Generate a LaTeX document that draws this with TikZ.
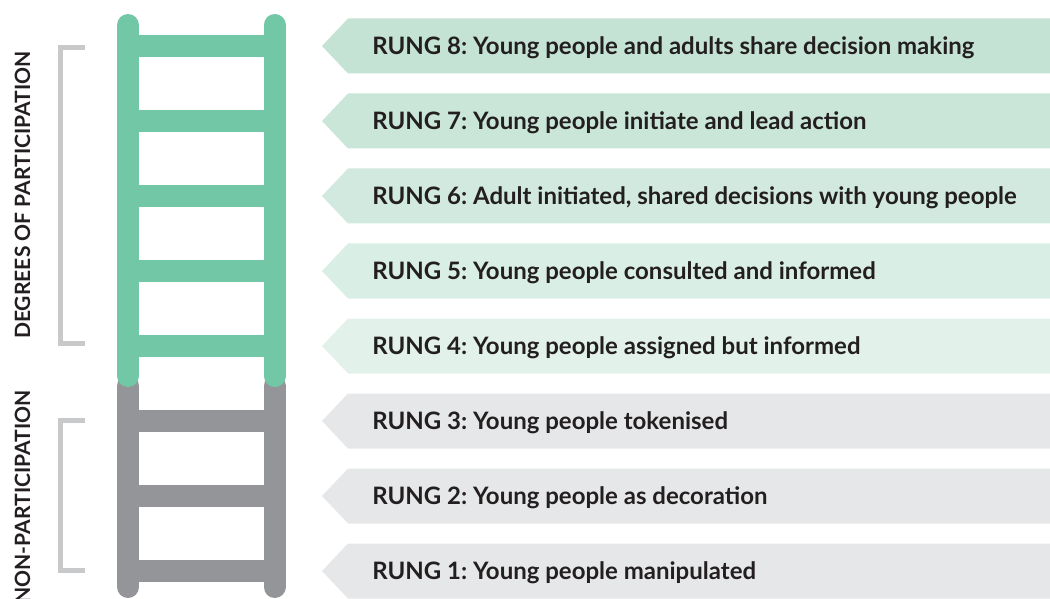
\documentclass[tikz,border=0pt]{standalone}
\usepackage{fontspec}
\setsansfont{Lato}
\usepackage{xcolor}
\frenchspacing

\definecolor{laddergreen}{HTML}{72C7A6}
\definecolor{laddergray}{HTML}{939598}
\definecolor{bracketgray}{HTML}{C8C9CB}
\definecolor{inkdark}{HTML}{231F20}
\definecolor{band8}{HTML}{C4E3D5}
\definecolor{band7}{HTML}{CAE6D9}
\definecolor{band6}{HTML}{D1E9DE}
\definecolor{band5}{HTML}{D9EEE4}
\definecolor{band4}{HTML}{E2F2EB}
\definecolor{bandgray}{HTML}{E6E7E8}

\tikzset{
  rail/.style={line width=16.5pt, line cap=round},
  crossbar/.style={line width=16.5pt},
  bracket/.style={draw=bracketgray, line width=3.75pt},
  rungtext/.style={anchor=base west, inner sep=0pt, text=inkdark,
    font=\sffamily\bfseries\fontsize{18}{21}\selectfont},
  sidetext/.style={rotate=90, anchor=base, inner sep=0pt, text=inkdark,
    font=\sffamily\bfseries\fontsize{15.8}{18}\selectfont}
}

\begin{document}
\begin{tikzpicture}[x=0.75pt, y=-0.75pt]
  \useasboundingbox (0,0) rectangle (1050,599);

  % arrow bands with the rung texts
  \foreach \n/\col/\txt in {
      8/band8/{Young people and adults share decision making},
      7/band7/{Young people initiate and lead action},
      6/band6/{Adult initiated, shared decisions with young people},
      5/band5/{Young people consulted and informed},
      4/band4/{Young people assigned but informed},
      3/bandgray/{Young people tokenised},
      2/bandgray/{Young people as decoration},
      1/bandgray/{Young people manipulated}} {
    \pgfmathsetmacro\yc{46+75*(8-\n)}
    \fill[\col] (322,\yc) -- (348,\yc-27.5) -- (1050,\yc-27.5)
      -- (1050,\yc+27.5) -- (348,\yc+27.5) -- cycle;
    \node[rungtext] (rung\n) at (372,\yc+8.5) {RUNG \n: \txt};
  }

  % ladder: grey bottom part first, green top part over it
  \draw[rail, laddergray] (128,386) -- (128,587) (274.5,386) -- (274.5,587);
  \foreach \y in {421,496,571}
    \draw[crossbar, laddergray] (128,\y) -- (274.5,\y);
  \foreach \y in {46,121,...,346}
    \draw[crossbar, laddergreen] (128,\y) -- (274.5,\y);
  \draw[rail, laddergreen] (128,25) -- (128,376) (274.5,25) -- (274.5,376);

  % brackets and side labels
  \draw[bracket] (85,48) -| (60.5,343) -- (85,343);
  \draw[bracket] (85,420) -| (60.5,570) -- (85,570);
  \node[sidetext] (degrees) at (30,195) {DEGREES OF PARTICIPATION};
  \node[sidetext] (nonpart) at (30,497) {NON-PARTICIPATION};
\end{tikzpicture}
\end{document}
